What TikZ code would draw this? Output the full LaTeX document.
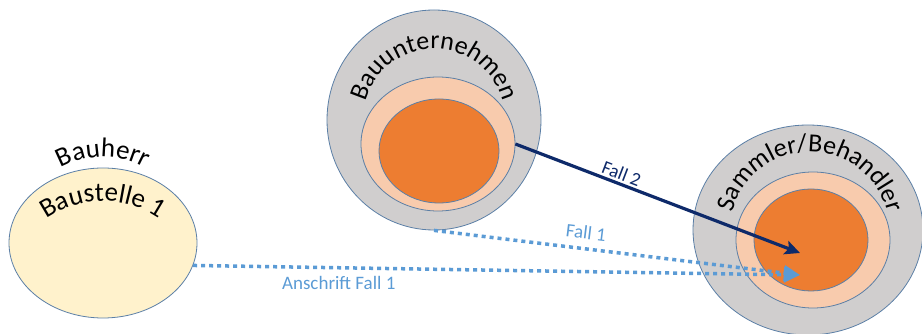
\documentclass[tikz,border=0pt]{standalone}
\usepackage{fontspec}
\setmainfont{Carlito}
\usetikzlibrary{shapes.geometric, arrows.meta, calc, decorations.text}
\definecolor{rand}{HTML}{5B7FA6}
\definecolor{creme}{HTML}{FFF2CC}
\definecolor{grau}{HTML}{D0CECE}
\definecolor{pfirsich}{HTML}{F8CBAD}
\definecolor{orange}{HTML}{ED7D31}
\definecolor{navy}{HTML}{0E2A6A}
\definecolor{hellblau}{HTML}{5B9BD5}
\newcommand{\bogenschrift}{\fontsize{26}{26}\selectfont}
\newcommand{\grossschrift}{\fontsize{27}{27}\selectfont}
\tikzset{
    kreis/.style={ellipse, draw=rand, line width=0.8pt, inner sep=0pt},
    aussen/.style={kreis, fill=grau},
    mitte/.style={kreis, fill=pfirsich},
    kern/.style={kreis, fill=orange},
    bogen/.style={decorate, decoration={text along path, text align=center, text={|\bogenschrift|#1}}},
    bogengross/.style={decorate, decoration={text along path, text align=center, text={|\grossschrift|#1}}},
    fallzwei/.style={-{Stealth[length=15pt, width=14pt, inset=3pt]}, draw=navy, line width=3.2pt},
    falleins/.style={-{Triangle[length=16pt, width=15pt]}, draw=hellblau, line width=3.5pt, dash pattern=on 4pt off 4pt},
    marke/.style={font=\fontsize{19}{21}\selectfont, inner sep=2pt},
}
\begin{document}
\begin{tikzpicture}[x=1pt, y=1pt]
    \useasboundingbox (0,0) rectangle (922,334);

    % === BAUHERR ===
    \node[kreis, fill=creme, minimum width=188pt, minimum height=150pt] (baustelle) at (103,91) {};
    \path[bogengross={Bauherr}] ($(baustelle.center)+(132:86pt)$) arc[start angle=132, end angle=48, radius=86pt];
    \path[bogengross={Baustelle 1}] ($(baustelle.center)+(0,-57)+(140:99pt)$) arc[start angle=140, end angle=40, radius=99pt];

    % === BAUUNTERNEHMEN ===
    \node[aussen, minimum width=214pt, minimum height=220pt] (bauAussen) at (434,214) {};
    \node[mitte, minimum width=154pt, minimum height=134pt] (bauMitte) at (438,190) {};
    \node[kern, minimum width=120pt, minimum height=104pt] (bauKern) at (439,183) {};
    \path[bogen={Bauunternehmen}] ($(bauAussen.center)+(175:71pt)$) arc[start angle=175, end angle=5, radius=71pt];

    % === SAMMLER/BEHANDLER ===
    \node[aussen, minimum width=230pt, minimum height=210pt] (samAussen) at (808,104) {};
    \node[mitte, minimum width=154pt, minimum height=136pt] (samMitte) at (813,94) {};
    \node[kern, minimum width=114pt, minimum height=102pt] (samKern) at (811,94) {};
    \path[bogen={Sammler/Behandler}] ($(samAussen.center)+(2,-2)+(175:80pt)$) arc[start angle=175, end angle=5, radius=80pt];

    % === FAELLE ===
    \coordinate (ziel2) at (800,81);
    \coordinate (ziel1) at (800,59);
    \draw[fallzwei] (bauMitte.east) -- (ziel2) node[marke, pos=0.36, above, sloped, text=navy] {Fall 2};
    \draw[falleins] (bauAussen.south) -- (ziel1) node[marke, pos=0.41, above=6pt, sloped, text=hellblau] {Fall 1};
    \draw[falleins] (baustelle.-14) -- (ziel1) node[marke, pos=0.24, below=5pt, text=hellblau] {Anschrift Fall 1};

\end{tikzpicture}
\end{document}
